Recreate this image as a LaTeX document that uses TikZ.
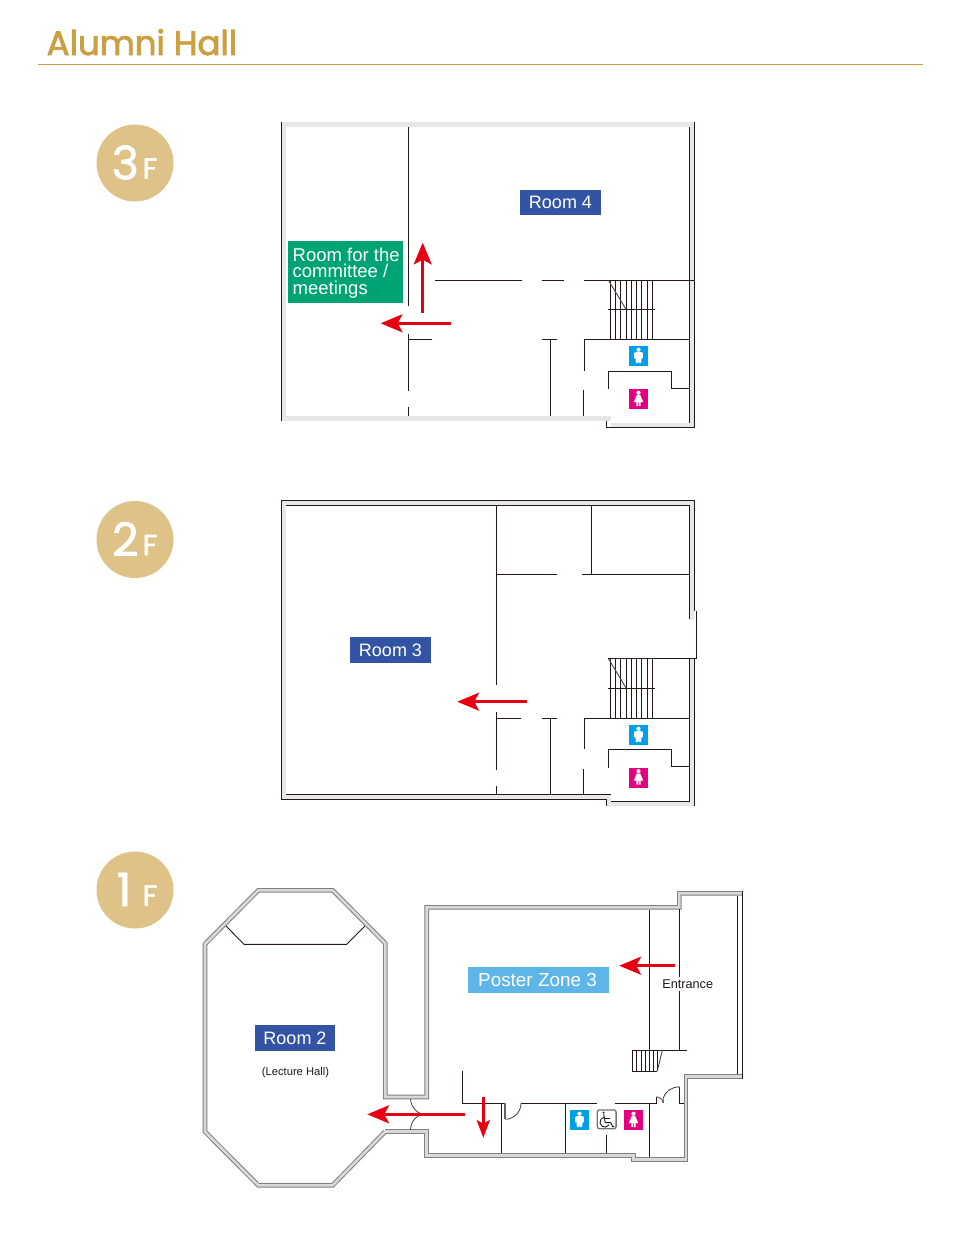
\documentclass[tikz,border=0pt]{standalone}
\usepackage{fontspec}
\setmainfont{Liberation Sans}
\newfontfamily\titlefont[FakeBold=2.5]{Poppins}
\newfontfamily\discfont[FakeBold=1.5]{Poppins}
\definecolor{wallk}{HTML}{231815}
\definecolor{bandg}{HTML}{E6E7E6}
\definecolor{gold}{HTML}{CBA043}
\definecolor{disc}{HTML}{DFC288}
\definecolor{roomb}{HTML}{3353A4}
\definecolor{roomg}{HTML}{00A474}
\definecolor{roomc}{HTML}{5EB5E8}
\definecolor{redar}{HTML}{E60012}
\definecolor{mancol}{HTML}{00A0E9}
\definecolor{womcol}{HTML}{E4007F}
\tikzset{
  x=1pt,y=-1pt,
  wall/.style={draw=wallk,line width=1.15pt},
  thin wall/.style={draw=wallk,line width=0.9pt},
  band/.style={fill=bandg,draw=none},
  dbl out/.style={draw=black!50,line width=4.6pt,miter limit=10},
  dbl in/.style={draw=black!15,line width=2.6pt,miter limit=10},
  shaft/.style={draw=redar,line width=3pt},
  roomlabel/.style={fill=roomb,text=white,minimum width=81pt,minimum height=25.5pt,inner sep=0pt,font=\fontsize{18}{18}\selectfont},
  disc node/.style={circle,fill=disc,minimum size=77pt,inner sep=0pt},
  big digit/.style={text=white,inner sep=0pt,font=\discfont\fontsize{46}{46}\selectfont},
  small f/.style={text=white,inner sep=0pt,font=\discfont\fontsize{29}{29}\selectfont},
  redhead/.pic={\fill[redar] (0,0)--(22,-9.2)--(17,0)--(22,9.2)--cycle;},
  smallhead/.pic={\fill[redar] (0,0)--(18,-6.8)--(14,0)--(18,6.8)--cycle;},
  mansign/.pic={
    \fill[mancol] (-9.5,-10) rectangle (9.5,10);
    \fill[white] (0,-6.3) circle (2.1);
    \fill[white] (-3,-3.9)--(3,-3.9)--(4.4,-2.8)--(4.4,2.4)--(3,2.4)--(2.6,7.2)--(0.4,7.2)--(0,3)--(-0.4,7.2)--(-2.6,7.2)--(-3,2.4)--(-4.4,2.4)--(-4.4,-2.8)--cycle;
  },
  womansign/.pic={
    \fill[womcol] (-9.5,-10) rectangle (9.5,10);
    \fill[white] (0,-6.3) circle (2.1);
    \fill[white] (-1.8,-4)--(1.8,-4)--(3,-1)--(4.8,3.2)--(2.2,3.2)--(2.2,7.2)--(0.4,7.2)--(0.4,3.2)--(-0.4,3.2)--(-0.4,7.2)--(-2.2,7.2)--(-2.2,3.2)--(-4.8,3.2)--(-3,-1)--cycle;
  },
  wheelsign/.pic={
    \draw[draw=black!55,fill=white,line width=1.3pt,rounded corners=2.2pt] (-9.4,-9.4) rectangle (9.4,9.4);
    \fill[wallk] (-3.1,-6.8) circle (1.1);
    \draw[wallk,line width=0.9pt] (-3,-5.5)--(-1.5,3.3)--(4,3.3)--(6,7.5)--(7.5,7);
    \draw[wallk,line width=0.9pt] (-2.2,-0.5)--(2.8,-0.5);
    \draw[wallk,line width=0.9pt] (-2.6,-2.1) arc[start angle=260,end angle=30,radius=5];
  }
}
\newcommand{\stairsat}[1]{%
  \foreach \sx in {610.3,615.3,620.7,626.3,631.3,636.3,641.3,647,652.3}
    \draw[thin wall] (\sx,#1)--(\sx,#1+59);
  \draw[thin wall] (608,#1+29.5)--(655,#1+29.5);
  \draw[draw=wallk!80,line width=0.9pt] (608.5,#1)--(626.3,#1+29.5);
}
\begin{document}
\begin{tikzpicture}
\useasboundingbox (0,0) rectangle (964,1234);
% title
\node[anchor=base west,inner sep=0pt,text=gold,font=\titlefont\fontsize{34}{34}\selectfont] (title) at (46.5,55) {Alumni Hall};
\draw[gold,line width=0.9pt] (38,64.3)--(923,64.3);
% floor discs
\node[disc node] (d3) at (135,163) {};
\node[big digit] (d3n) at (125.3,162.5) {3};
\node[small f] (d3f) at (150,168.5) {F};
\node[disc node] (d2) at (135,539.5) {};
\node[big digit] (d2n) at (125.3,539) {2};
\node[small f] (d2f) at (150,545) {F};
\node[disc node] (d1) at (135,890) {};
\node[big digit] (d1n) at (124,889.5) {1};
\node[small f] (d1f) at (150,895.5) {F};

% ---------- 3F
\fill[band] (281.5,122) rectangle (694.5,127);
\fill[band] (281.5,122) rectangle (286,420.7);
\fill[band] (689.3,122) rectangle (694.5,427);
\fill[band] (281.5,416) rectangle (610.7,420.7);
\fill[band] (610.7,422.7) rectangle (694.5,427);
\draw[wall] (281.5,122)--(281.5,420.7);
\draw[wall] (689.3,127)--(689.3,422.7);
\draw[wall] (694.3,122)--(694.3,427.3)--(606.3,427.3)--(606.3,420.7);
\draw[wall] (408.3,127)--(408.3,305.7) (408.3,334)--(408.3,390.7) (408.3,406.7)--(408.3,416);
\draw[wall] (435,280.3)--(522,280.3) (542,280.3)--(564,280.3) (584,280.3)--(694.3,280.3);
\draw[wall] (408.3,339.3)--(432,339.3) (542,339.3)--(556.7,339.3) (584.3,339.3)--(689.3,339.3);
\draw[wall] (550.3,339.3)--(550.3,416);
\draw[wall] (584.3,339.3)--(584.3,370.7) (583.3,390)--(583.3,416);
\draw[wall] (608.3,388.7)--(608.3,371.3)--(671.7,371.3)--(671.7,388.3)--(689.3,388.3);
\stairsat{280.3}
\pic at (638.5,356) {mansign};
\pic at (638.5,399) {womansign};
\node[roomlabel,minimum height=25pt] (room4) at (560.5,202.5) {Room 4};
\node[fill=roomg,text=white,minimum width=115pt,minimum height=62pt,inner sep=0pt] (green) at (345.5,272) {};
\node[anchor=west,text=white,inner sep=0pt,align=left,font=\fontsize{18.5}{16.6}\selectfont] (greent) at (292.5,273) {Room for the\\committee /\\meetings};
\draw[shaft] (422.7,312.7)--(422.7,258);
\pic[rotate=-90] at (422.7,242.7) {redhead};
\draw[shaft] (451.3,323.3)--(396,323.3);
\pic at (380.7,323.3) {redhead};

% ---------- 2F
\fill[band] (281.3,500.3) rectangle (694.3,505.3);
\fill[band] (281.3,500.3) rectangle (286,799.3);
\fill[band] (281.3,794) rectangle (610.7,799.3);
\fill[band] (606.3,799) rectangle (610.7,805.7);
\fill[band] (689.3,500.3) rectangle (694.3,620);
\fill[band] (689.3,658.3) rectangle (694.3,805.7);
\fill[band] (606.3,801.3) rectangle (694.3,805.7);
\draw[wall] (694.3,611)--(694.3,500.3)--(281.3,500.3)--(281.3,799.3)--(606.3,799.3)--(606.3,805.7);
\draw[wall] (286,505.3)--(689.3,505.3)--(689.3,619.3);
\draw[wall] (696.3,611)--(696.3,658.7);
\draw[wall] (694.3,658.3)--(694.3,805.7);
\draw[wall] (689.3,658.3)--(689.3,801.3)--(610.7,801.3);
\draw[thin wall] (286,794.4)--(610.7,794.4);
\draw[wall] (496.3,505.3)--(496.3,685) (496.3,712)--(496.3,770) (496.3,786)--(496.3,794);
\draw[wall] (496.3,574.3)--(556.7,574.3) (582,574.3)--(689.3,574.3);
\draw[wall] (591.3,505.3)--(591.3,574.3);
\draw[wall] (608.3,658.3)--(696.3,658.3);
\draw[wall] (496.3,718.3)--(520.7,718.3) (542,718.3)--(556.7,718.3) (584.3,718.3)--(689.3,718.3);
\draw[wall] (550.3,718.3)--(550.3,794);
\draw[wall] (584.3,718.3)--(584.3,748.7) (583.3,769)--(583.3,794);
\draw[wall] (608.3,767.7)--(608.3,749.3)--(671.7,749.3)--(671.7,766.3)--(689.3,766.3);
\stairsat{658.8}
\pic at (638.5,735) {mansign};
\pic at (638.5,777.5) {womansign};
\node[roomlabel] (room3) at (390.5,650) {Room 3};
\draw[shaft] (527.3,701.7)--(472,701.7);
\pic at (457.3,701.7) {redhead};

% ---------- 1F
\def\hallwall{(385,1131.7)--(332.7,1185.3)--(258.3,1185.3)--(205,1131.7)--(205,944)--(258.3,890.3)--(332.7,890.3)--(385.3,943.3)--(385.3,1097)--(426.7,1097)--(426.7,907.3)--(679.3,907.3)--(679.3,893.3)--(742.3,893.3)}
\def\hallwalltwo{(742.3,1076.7)--(686,1076.7)--(686,1159.3)--(633.3,1159.3)--(633.3,1155.3)--(426.7,1155.3)--(426.7,1131.7)--(385,1131.7)}
\draw[dbl out] \hallwall;
\draw[dbl out] \hallwalltwo;
\draw[dbl in] \hallwall;
\draw[dbl in] \hallwalltwo;
\draw[thin wall] (737.3,895.7)--(737.3,1074.2) (742.3,891)--(742.3,1079);
% stage
\draw[thin wall] (226,926)--(244,944.3)--(346.7,944.3)--(365,926);
% doors to Room 2
\draw[draw=wallk!85,line width=0.8pt] (410.5,1099) .. controls (411,1107) and (417,1114.3) .. (425,1114.3);
\draw[draw=wallk!85,line width=0.8pt] (410.5,1129.5) .. controls (411,1121) and (417,1114.3) .. (425,1114.3);
% hall partitions
\draw[thin wall] (649.3,910)--(649.3,1050.3);
\draw[thin wall] (679.3,909)--(679.3,1050.3);
\draw[thin wall] (632.3,1050.3)--(686.7,1050.3);
\foreach \sx in {632.3,636.7,641,645,649.3,653.3,657.3}
  \draw[thin wall] (\sx,1050.3)--(\sx,1071);
\draw[thin wall] (632.3,1071)--(657.3,1071);
\draw[draw=wallk!80,line width=0.9pt] (662.3,1050.3)--(657.3,1071);
\draw[thin wall] (462.3,1071)--(462.3,1103.3)--(505,1103.3);
\draw[thin wall] (521,1103.3)--(596.7,1103.3);
\draw[thin wall] (615,1103.3)--(656.5,1103.3)--(656.5,1096.8);
\draw[draw=wallk!85,line width=0.8pt] (656.5,1096.8) .. controls (660,1097) and (662.5,1099.5) .. (663.2,1103);
\draw[draw=wallk!85,line width=0.8pt] (663.2,1103)--(663.2,1098) .. controls (665.5,1091) and (672,1087) .. (679.3,1086.7);
\draw[thin wall] (679.3,1086.7)--(679.3,1103.3)--(684,1103.3);
\draw[draw=black!60,line width=1.4pt] (504.9,1103.3)--(504.9,1119.3);
\draw[draw=wallk!85,line width=0.8pt] (505.5,1119.3) .. controls (514,1119) and (521,1112) .. (521,1103.3);
\draw[thin wall] (501.3,1103.3)--(501.3,1153.3);
\draw[thin wall] (565.3,1103.3)--(565.3,1153.3);
\draw[thin wall] (606.3,1135)--(606.3,1153.3);
\draw[thin wall] (649.3,1103.3)--(649.3,1157.3);
\pic at (579.5,1120) {mansign};
\pic at (606.7,1119.3) {wheelsign};
\pic at (633.5,1120) {womansign};
\node[roomlabel,minimum width=80pt] (room2) at (295,1038) {Room 2};
\node[fill=roomc,text=white,minimum width=141pt,minimum height=26pt,inner sep=0pt,font=\fontsize{18.9}{18}\selectfont] (poster) at (538.5,980) {\hspace{-2pt}Poster Zone 3};
\node[inner sep=0pt,text=wallk,font=\fontsize{11.2}{11}\selectfont] (lecture) at (295.5,1072.5) {(Lecture Hall)};
\node[inner xsep=0pt,inner ysep=3pt,fill=white,text=wallk,font=\fontsize{12.7}{13}\selectfont] (entr) at (687.7,984) {Entrance};
% arrows
\draw[shaft] (465,1114.3)--(383,1114.3);
\pic at (367.3,1114.3) {redhead};
\draw[shaft] (675,965.7)--(634,965.7);
\pic at (619.3,965.7) {redhead};
\draw[shaft] (483.3,1096.7)--(483.3,1125);
\pic[rotate=90] at (483.3,1137.7) {smallhead};
\end{tikzpicture}
\end{document}
